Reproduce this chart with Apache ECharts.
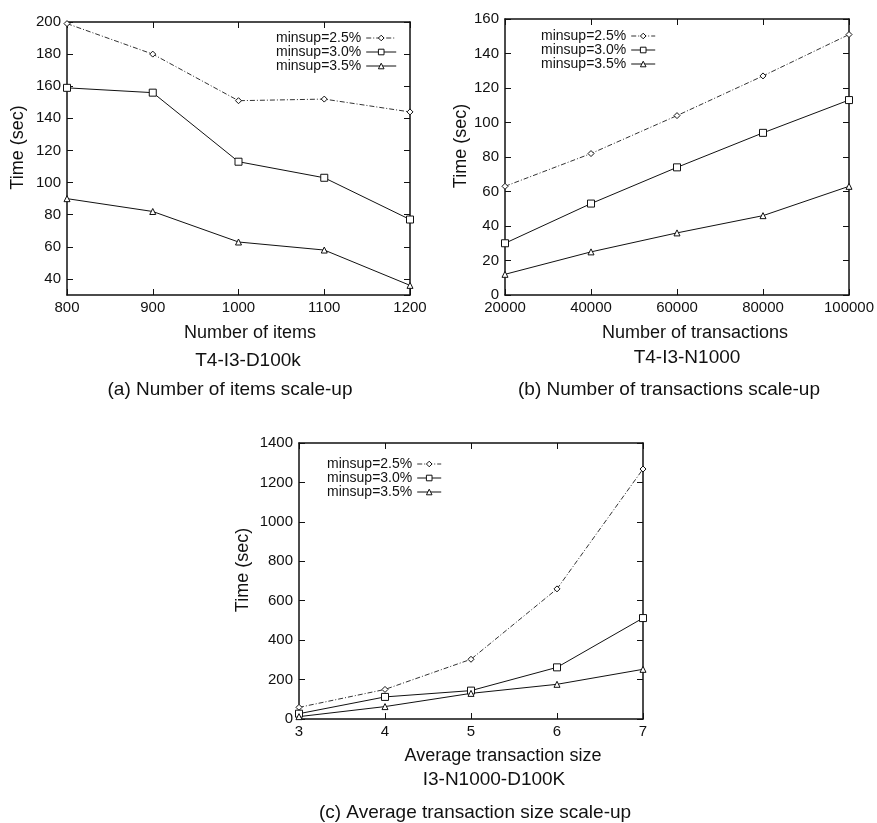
<!DOCTYPE html>
<html>
<head>
<meta charset="utf-8">
<script src="https://cdn.jsdelivr.net/npm/echarts@6/dist/echarts.min.js"></script>
<style>
  html, body { margin: 0; padding: 0; background: #fff; }
  #chart-container { width: 877px; height: 823px; }
</style>
</head>
<body>
<div id="chart-container"></div>
<script>
var seriesNames = ['minsup=2.5%', 'minsup=3.0%', 'minsup=3.5%'];

// (a) number of items, T4-I3-D100k
var itemsX = [800, 900, 1000, 1100, 1200];
var items25 = [199, 180, 151, 152, 144];
var items30 = [159, 156, 113, 103, 77];
var items35 = [90, 82, 63, 58, 36];

// (b) number of transactions, T4-I3-N1000
var transX = [20000, 40000, 60000, 80000, 100000];
var trans25 = [63, 82, 104, 127, 151];
var trans30 = [30, 53, 74, 94, 113];
var trans35 = [12, 25, 36, 46, 63];

// (c) average transaction size, I3-N1000-D100K
var sizeX = [3, 4, 5, 6, 7];
var size25 = [59, 150, 303, 660, 1268];
var size30 = [27, 112, 144, 262, 512];
var size35 = [12, 63, 130, 176, 252];

var FONT = '"Liberation Sans", Arial, Helvetica, sans-serif';
var INK = '#111';

var chartDom = document.getElementById('chart-container');
var chart = echarts.init(chartDom);

function zip(xs, ys) {
    var out = [];
    for (var i = 0; i < xs.length; i++) out.push([xs[i], ys[i]]);
    return out;
}

// one frame side; labels only on bottom / left
function makeAxis(gridIndex, pos, range, withLabels) {
    var ax = {
        type: 'value',
        gridIndex: gridIndex,
        position: pos,
        min: range.min,
        max: range.max,
        axisLine: { show: true, onZero: false, lineStyle: { color: INK, width: 1.5 } },
        axisTick: { show: true, inside: true, length: 6, lineStyle: { color: INK, width: 1 } },
        splitLine: { show: false },
        axisLabel: {
            show: withLabels,
            color: INK,
            fontSize: 15,
            fontFamily: FONT,
            margin: pos === 'bottom' ? 5 : 6,
            showMinLabel: range.showMin !== false,
            formatter: function (v) { return String(v); }
        }
    };
    if (range.interval) ax.interval = range.interval;
    if (range.fixed) {
        ax.splitNumber = range.split;
        ax.minInterval = range.fixed;
        ax.maxInterval = range.fixed;
    }
    return ax;
}

function makeSeries(name, xi, yi, data, idx) {
    var s = {
        name: name,
        type: 'line',
        xAxisIndex: xi,
        yAxisIndex: yi,
        data: data,
        symbol: ['diamond', 'rect', 'triangle'][idx],
        symbolSize: [6, 7, 6][idx],
        showSymbol: true,
        color: INK,
        // white fill with a thin outline, like gnuplot's open points
        itemStyle: { color: '#fff', borderColor: INK, borderWidth: 1 },
        lineStyle: { color: INK, width: 1 },
        emphasis: { disabled: true },
        animation: false
    };
    if (idx === 0) {
        s.lineStyle = { color: '#333', width: 1, type: [5, 2, 1, 2] };
    }
    return s;
}

function makeLegend(left, top, iconW) {
    return {
        orient: 'vertical',
        left: left,
        top: top,
        align: 'right',
        itemWidth: iconW,
        itemHeight: 7,
        itemGap: 0,
        padding: 0,
        selectedMode: false,
        data: seriesNames,
        itemStyle: { color: '#fff', borderColor: INK, borderWidth: 1 },
        lineStyle: { width: 1 },
        textStyle: { color: INK, fontSize: 14, fontFamily: FONT, lineHeight: 12.5 }
    };
}

function nameText(x, y, text) {
    return {
        type: 'text',
        x: x,
        y: y,
        style: {
            text: text,
            fill: INK,
            font: '19px ' + FONT,
            textAlign: 'center',
            textVerticalAlign: 'middle'
        }
    };
}

var rangesX = [
    { min: 800, max: 1200, interval: 100 },
    { min: 20000, max: 100000, interval: 20000 },
    { min: 3, max: 7, interval: 1 }
];
var rangesY = [
    { min: 30, max: 200, fixed: 20, split: 8, showMin: false },
    { min: 0, max: 160, interval: 20 },
    { min: 0, max: 1400, interval: 200 }
];
var xNames = ['Number of items', 'Number of transactions', 'Average transaction size'];
var xNamePad = [23, 36, 64];
var xNameGap = [29, 29, 28];
var yNameGap = [40, 33, 47];

var xAxes = [], yAxes = [];
for (var g = 0; g < 3; g++) {
    var xb = makeAxis(g, 'bottom', rangesX[g], true);
    xb.name = xNames[g];
    xb.nameLocation = 'middle';
    xb.nameGap = xNameGap[g];
    xb.nameTextStyle = { color: INK, fontSize: 18, fontFamily: FONT, padding: [0, 0, 0, xNamePad[g]] };
    xAxes.push(xb);
    xAxes.push(makeAxis(g, 'top', rangesX[g], false));

    var yl = makeAxis(g, 'left', rangesY[g], true);
    yl.name = 'Time (sec)';
    yl.nameLocation = 'middle';
    yl.nameGap = yNameGap[g];
    yl.nameTextStyle = { color: INK, fontSize: 18, fontFamily: FONT, padding: [0, 0, 0, 22] };
    yAxes.push(yl);
    yAxes.push(makeAxis(g, 'right', rangesY[g], false));
}

var allData = [
    [zip(itemsX, items25), zip(itemsX, items30), zip(itemsX, items35)],
    [zip(transX, trans25), zip(transX, trans30), zip(transX, trans35)],
    [zip(sizeX, size25), zip(sizeX, size30), zip(sizeX, size35)]
];
var series = [];
for (var g2 = 0; g2 < 3; g2++) {
    for (var k = 0; k < 3; k++) {
        series.push(makeSeries(seriesNames[k], g2 * 2, g2 * 2, allData[g2][k], k));
    }
}

var option = {
    backgroundColor: '#fff',
    animation: false,
    textStyle: { fontFamily: FONT },
    grid: [
        { left: 67, top: 22, width: 343, height: 273, outerBoundsMode: 'none' },
        { left: 505, top: 19, width: 344, height: 276, outerBoundsMode: 'none' },
        { left: 299, top: 443, width: 344, height: 276, outerBoundsMode: 'none' }
    ],
    xAxis: xAxes,
    yAxis: yAxes,
    legend: [
        makeLegend(276, 31, 30),
        makeLegend(541, 29, 24),
        makeLegend(327, 457, 24)
    ],
    graphic: [
        nameText(248, 361, 'T4-I3-D100k'),
        nameText(230, 390, '(a) Number of items scale-up'),
        nameText(687, 358, 'T4-I3-N1000'),
        nameText(669, 390, '(b) Number of transactions scale-up'),
        nameText(494, 780, 'I3-N1000-D100K'),
        nameText(475, 813, '(c) Average transaction size scale-up')
    ],
    series: series
};

chart.setOption(option);
window.addEventListener('resize', chart.resize);
</script>
</body>
</html>
